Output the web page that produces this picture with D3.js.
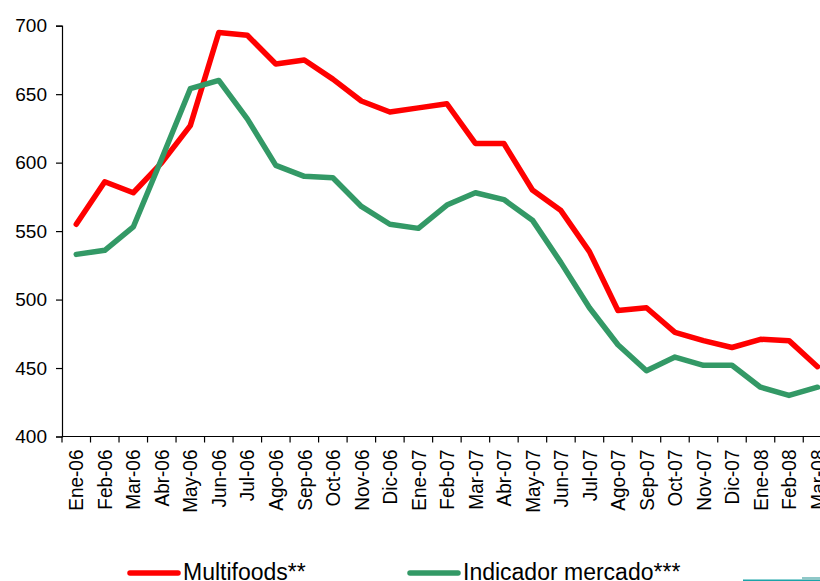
<!DOCTYPE html>
<html>
<head>
<meta charset="utf-8">
<script src="https://cdn.jsdelivr.net/npm/d3@7"></script>
<style>
  body { margin: 0; background: #fff; }
  svg { display: block; font-family: "Liberation Sans", Arial, sans-serif; }
</style>
</head>
<body>
<div id="chart"></div>
<script>
// data
var months = ["Ene-06", "Feb-06", "Mar-06", "Abr-06", "May-06", "Jun-06", "Jul-06", "Ago-06", "Sep-06",
  "Oct-06", "Nov-06", "Dic-06", "Ene-07", "Feb-07", "Mar-07", "Abr-07", "May-07", "Jun-07", "Jul-07",
  "Ago-07", "Sep-07", "Oct-07", "Nov-07", "Dic-07", "Ene-08", "Feb-08", "Mar-08"];

var multifoods = [555, 586, 578, 600, 627, 695, 693, 672, 675, 661, 645, 637, 640, 643, 614, 614,
  580, 565, 535, 492, 494, 476, 470, 465, 471, 470, 451];

var indicador = [533, 536, 553, 603, 654, 660, 632, 598, 590, 589, 568, 555, 552, 569, 578, 573,
  558, 527, 494, 467, 448, 458, 452, 452, 436, 430, 436];

var yTicks = [400, 450, 500, 550, 600, 650, 700];

var seriesNames = ["Multifoods**", "Indicador mercado***"];
var seriesColors = ["#ff0000", "#339966"];

var svgWidth = 820;
var svgHeight = 581;

var plotLeft = 62, plotTop = 25.7, plotBottom = 436.5;
var step = 28.51;

var svg = d3.select("#chart").append("svg")
    .attr("width", svgWidth)
    .attr("height", svgHeight);

// Scales
var x = d3.scaleBand()
    .domain(months)
    .range([plotLeft, plotLeft + step * months.length])
    .padding(0);

var y = d3.scaleLinear()
    .domain([400, 700])
    .range([plotBottom, plotTop]);

// Y axis
var yAxis = d3.axisLeft(y)
    .tickValues(yTicks)
    .tickSize(6)
    .tickPadding(9);

var yG = svg.append("g")
    .attr("transform", `translate(${plotLeft},0)`)
    .call(yAxis);
yG.select(".domain").attr("stroke", "#000").attr("stroke-width", 1.2);
yG.selectAll(".tick line").attr("stroke", "#000").attr("stroke-width", 1.2);
yG.selectAll(".tick text")
    .attr("fill", "#000")
    .style("font-size", "19px");

// X axis: line, ticks between categories, rotated labels
var xG = svg.append("g");

xG.append("line")
    .attr("x1", plotLeft)
    .attr("x2", x.range()[1])
    .attr("y1", plotBottom)
    .attr("y2", plotBottom)
    .attr("stroke", "#000")
    .attr("stroke-width", 1.2);

var bounds = months.map(d => x(d)).concat([x.range()[1]]);
xG.selectAll(".xtick")
    .data(bounds)
    .enter()
    .append("line")
    .attr("class", "xtick")
    .attr("x1", d => d)
    .attr("x2", d => d)
    .attr("y1", plotBottom)
    .attr("y2", plotBottom + 6)
    .attr("stroke", "#000")
    .attr("stroke-width", 1.2);

xG.selectAll(".xlabel")
    .data(months)
    .enter()
    .append("text")
    .attr("class", "xlabel")
    .attr("transform", d => `translate(${x(d) + x.bandwidth() / 2}, ${plotBottom + 13}) rotate(-90) scale(1,1.08)`)
    .attr("text-anchor", "end")
    .attr("dy", "0.35em")
    .style("font-size", "19px")
    .attr("fill", "#000")
    .text(d => d);

// Lines
var line = d3.line()
    .x((d, i) => x(months[i]) + x.bandwidth() / 2)
    .y(d => y(d));

[multifoods, indicador].forEach(function(vals, k) {
  svg.append("path")
      .datum(vals)
      .attr("d", line)
      .attr("fill", "none")
      .attr("stroke", seriesColors[k])
      .attr("stroke-width", 5.5)
      .attr("stroke-linejoin", "round")
      .attr("stroke-linecap", "round");
});

// Legend
var legendX = [130, 410];
var legend = svg.selectAll(".legend")
    .data(seriesNames)
    .enter()
    .append("g")
    .attr("class", "legend")
    .attr("transform", (d, i) => `translate(${legendX[i]}, 573)`);

legend.append("line")
    .attr("x1", 0)
    .attr("x2", 48)
    .attr("y1", 0)
    .attr("y2", 0)
    .attr("stroke", (d, i) => seriesColors[i])
    .attr("stroke-width", 5.5)
    .attr("stroke-linecap", "round");

legend.append("text")
    .attr("x", 53)
    .attr("y", 7)
    .style("font-size", "23px")
    .attr("fill", "#000")
    .text(d => d);

// small leftover mark bottom right
svg.append("rect")
    .attr("x", 743).attr("y", 579.5)
    .attr("width", 77).attr("height", 1.5)
    .attr("fill", "#1aa3a8");
svg.append("rect")
    .attr("x", 802).attr("y", 577)
    .attr("width", 18).attr("height", 3)
    .attr("fill", "#8fc8c8");
</script>
</body>
</html>
